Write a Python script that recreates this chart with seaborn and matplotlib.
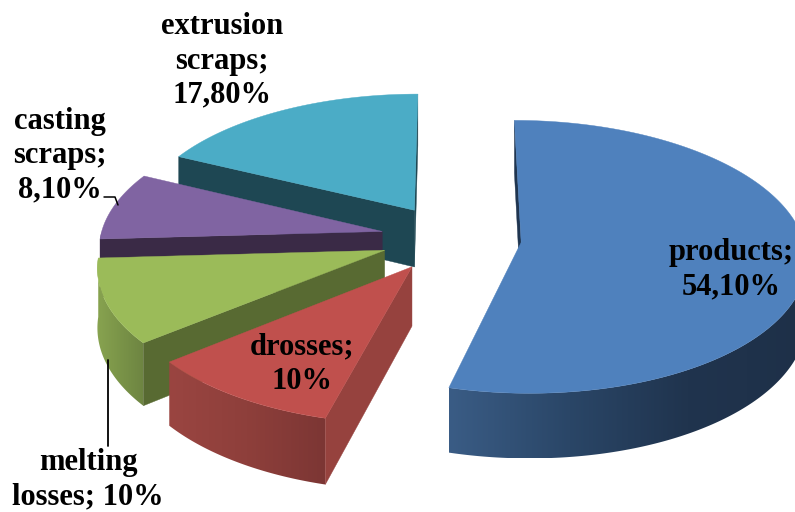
import numpy as np
import matplotlib
matplotlib.use("Agg")
import matplotlib.pyplot as plt
from matplotlib.patches import Polygon
import seaborn as sns

# Share of aluminium output, clockwise from twelve o'clock
categories = ["products", "drosses", "melting losses", "casting scraps", "extrusion scraps"]
shares = [54.1, 10.0, 10.0, 8.1, 17.8]
label_texts = ["products;\n54,10%", "drosses;\n10%", "melting\nlosses; 10%",
               "casting\nscraps;\n8,10%", "extrusion\nscraps;\n17,80%"]
label_anchors = [(731, 270), (302, 364), (88, 480), (60, 156), (222, 61)]

top_colors = ["#4F81BD", "#C0504D", "#9BBB59", "#8064A2", "#4BACC6"]
cut_colors = ["#1F3550", "#96423E", "#586A32", "#3A2A46", "#1E4753"]
# Curved wall shading, left to right across the page
wall_stops = [
    ["#3A5C85", "#2A4667", "#20344E", "#1E3048"],
    ["#9A4541", "#8E3F3B", "#7C3634"],
    ["#88A350", "#7A9448", "#6E8542"],
    ["#5A4672", "#4A3A60"],
    ["#2E7386", "#245E6E"],
]

# Projection of the pie plane onto the page
CX, CY = 451.0, 238.0
RX, RY = 282.0, 134.0
PERSP = 0.106
DEPTH = 58.0
EXPLODE = 0.25

sns.set_theme(style="white")
plt.rcParams["font.family"] = ["Liberation Serif", "DejaVu Serif"]

fig, ax = plt.subplots(figsize=(7.95, 5.12), dpi=100)
fig.subplots_adjust(0, 0, 1, 1)


def project(x, y, drop=0.0):
    s = 1.0 / (1.0 + PERSP * np.asarray(y))
    return CX + RX * np.asarray(x) * s, CY + s * (drop * DEPTH - RY * np.asarray(y))


def draw_wall(seg_x, seg_y, stops, z):
    xs, ys = project(seg_x, seg_y)
    xb, yb = project(seg_x[::-1], seg_y[::-1], 1.0)
    outline = np.c_[np.r_[xs, xb], np.r_[ys, yb]]
    ramp = np.array(sns.blend_palette(stops, 128))[:, :3][np.newaxis, :, :]
    extent = (outline[:, 0].min(), outline[:, 0].max(), outline[:, 1].max(), outline[:, 1].min())
    img = ax.imshow(ramp, extent=extent, aspect="auto", interpolation="bilinear", zorder=z)
    img.set_clip_path(Polygon(outline, closed=True, transform=ax.transData))


def draw_cut(ox, oy, px, py, cut, z):
    xs, ys = project(np.array([ox, px]), np.array([oy, py]))
    xb, yb = project(np.array([px, ox]), np.array([py, oy]), 1.0)
    ax.fill(np.r_[xs, xb], np.r_[ys, yb], color=cut, lw=0.3, zorder=z)


def draw_slice(start, end, top, cut, stops, z):
    mid = np.radians((start + end) / 2)
    ox, oy = EXPLODE * np.sin(mid), EXPLODE * np.cos(mid)
    th = np.radians(np.linspace(start, end, 240))
    arc_x, arc_y = ox + np.sin(th), oy + np.cos(th)

    # Only the part of the rim that faces the viewer
    front = np.cos(th) < 0
    if front.sum() > 1:
        draw_wall(arc_x[front], arc_y[front], stops, z)

    # Straight cut faces, when turned towards the viewer
    if np.sin(th[0]) < 1e-9:
        draw_cut(ox, oy, arc_x[0], arc_y[0], cut, z + 0.2)
    if np.sin(th[-1]) > -1e-9:
        draw_cut(ox, oy, arc_x[-1], arc_y[-1], cut, z + 0.2)

    # Upper surface
    xs, ys = project(np.r_[ox, arc_x], np.r_[oy, arc_y])
    ax.fill(xs, ys, color=top, lw=0.3, zorder=z + 0.5)


bounds = np.cumsum([0.0] + shares) * 3.6
# Painter's order: the rear slice first, the right-hand slice last
for order, idx in enumerate([4, 3, 2, 1, 0]):
    draw_slice(bounds[idx], bounds[idx + 1], top_colors[idx], cut_colors[idx], wall_stops[idx], order + 1)

ax.set_xlim(0, 795)
ax.set_ylim(512, 0)
ax.axis("off")

# Leader lines for the two outside labels
ax.plot([104, 115, 118], [197, 197, 205], color="black", lw=1.1, zorder=10)
ax.plot([108, 108], [360, 446], color="black", lw=1.3, zorder=10)

for text, (lx, ly) in zip(label_texts, label_anchors):
    ax.text(lx, ly, text, ha="center", va="center", fontsize=22, fontweight="bold",
            color="black", linespacing=1.24, zorder=12)

fig.savefig("out.png", dpi=100)
